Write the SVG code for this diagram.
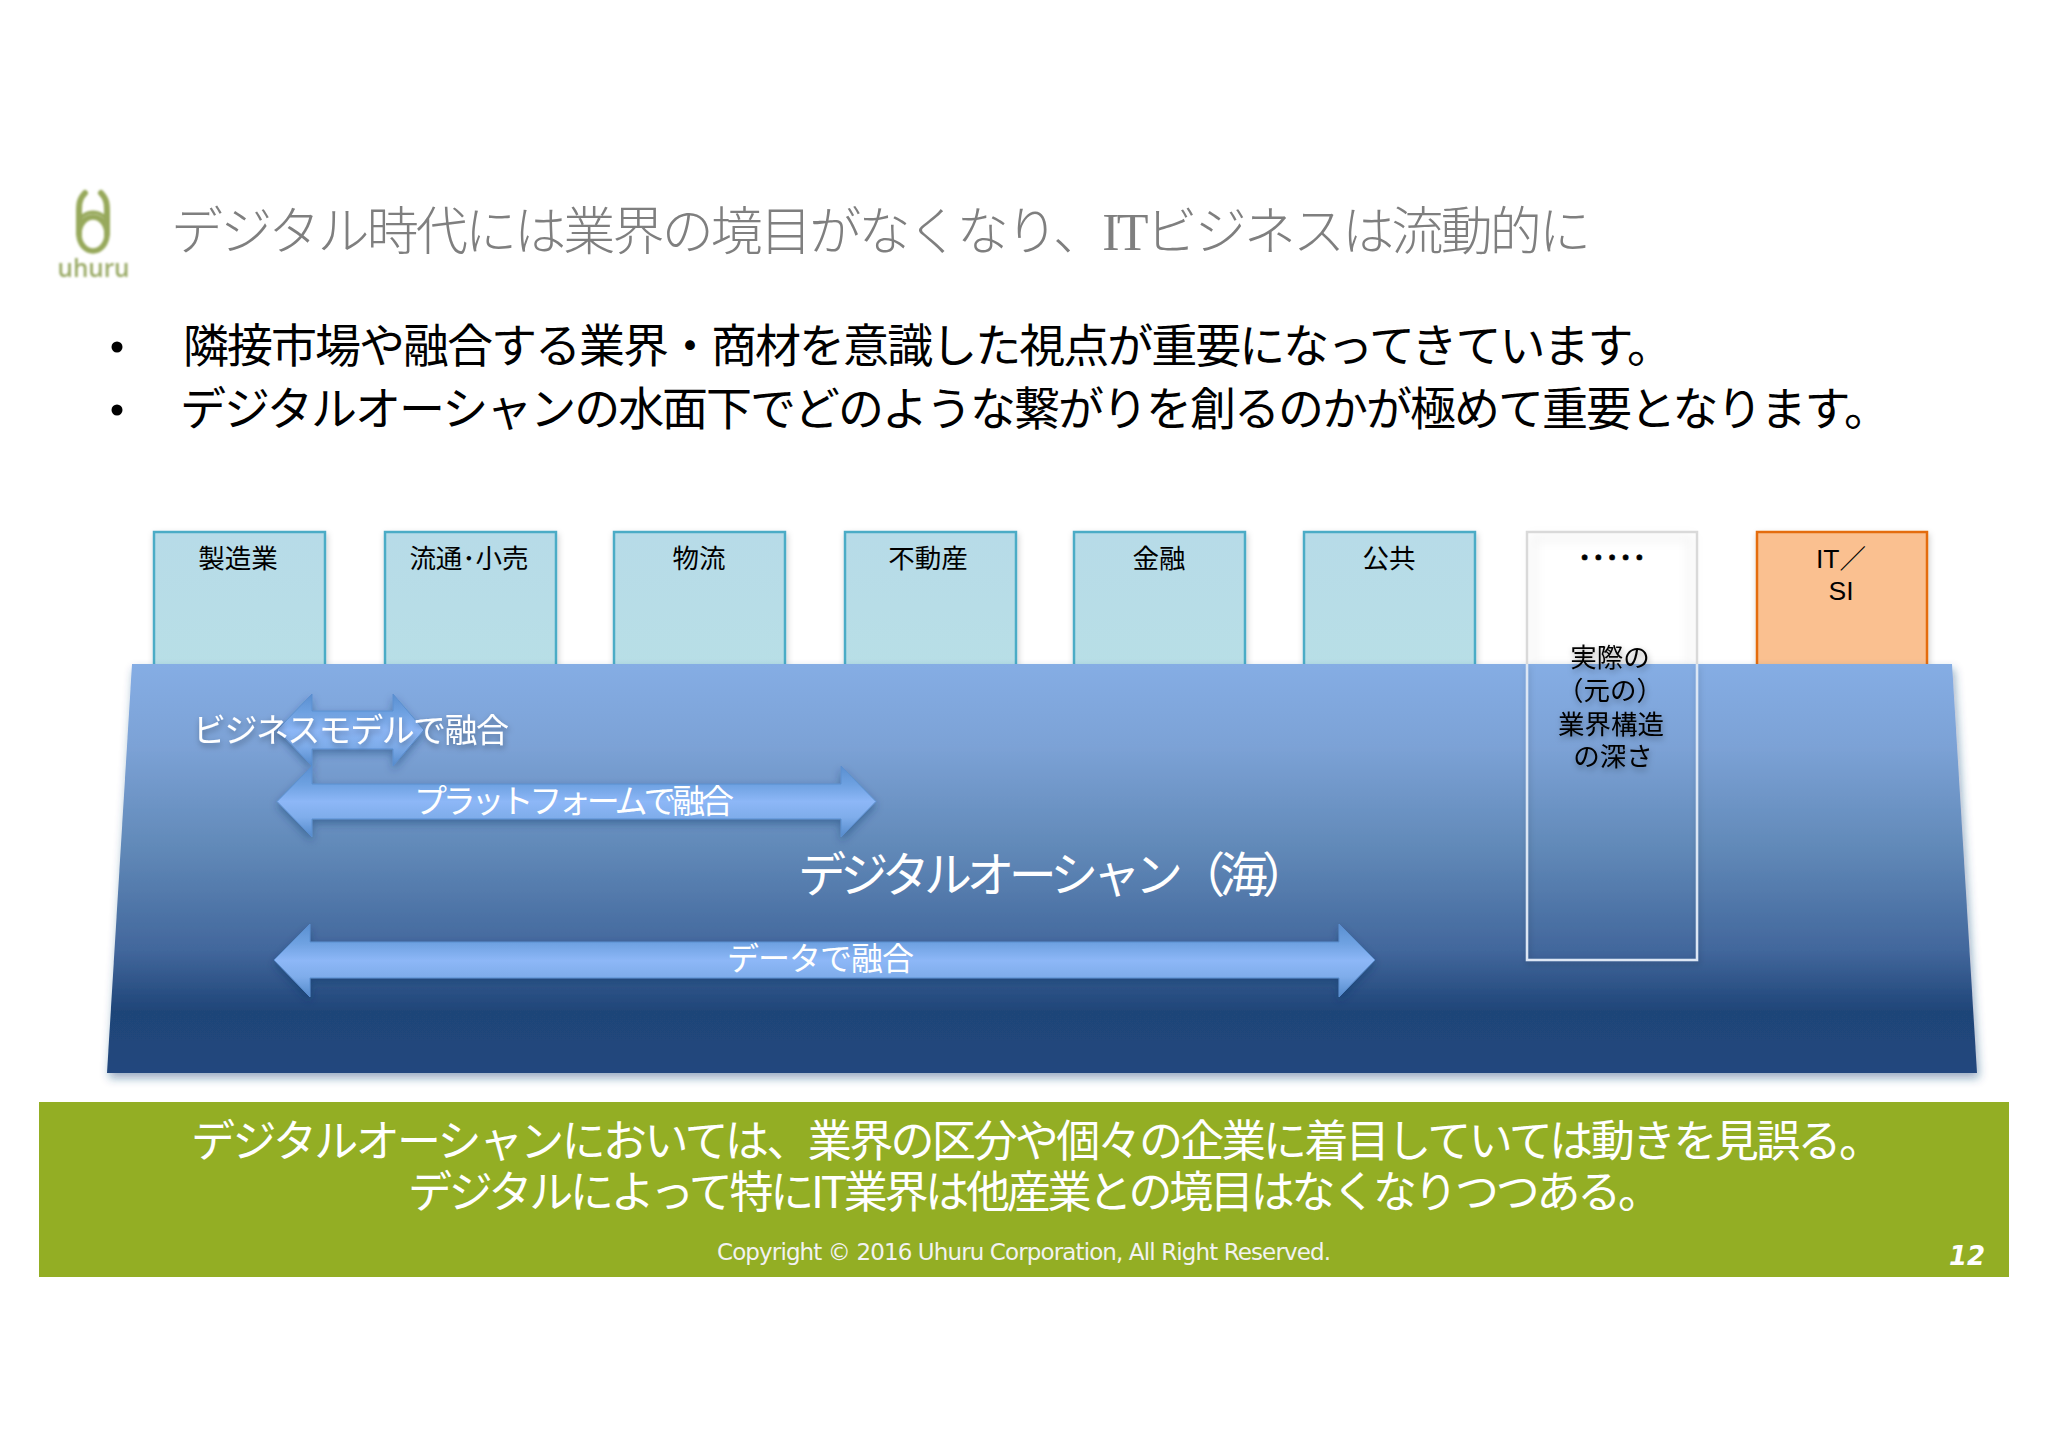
<svg xmlns="http://www.w3.org/2000/svg" width="2048" height="1447" viewBox="0 0 2048 1447">
<style>
.jp{font-family:"Noto Sans CJK JP","Liberation Sans",sans-serif}
.box{stroke-width:2.500;filter:url(#sh)}
.blue{fill:url(#boxg);stroke:#4BACC6}
.lab{font-size:26.500px;fill:#000;text-anchor:middle;font-family:"Liberation Sans","Noto Sans CJK JP",sans-serif}
.wh{fill:#fff}
.arr{fill:url(#arrg);stroke:#5b8fd0;stroke-width:1;filter:url(#sh2)}
.ts{filter:url(#ts)}
.logo{fill:none;stroke:#97a95c;stroke-linecap:round}
</style>
<defs>
<linearGradient id="boxg" x1="0" y1="0" x2="0" y2="1"><stop offset="0" stop-color="#B7DBE8"/><stop offset="1" stop-color="#B8DFE6"/></linearGradient>
<linearGradient id="sea" x1="0" y1="0" x2="0" y2="1"><stop offset="0" stop-color="#85ADE4"/><stop offset=".2" stop-color="#7CA2D6"/><stop offset=".45" stop-color="#6189B8"/><stop offset=".7" stop-color="#42679C"/><stop offset=".85" stop-color="#1F4578"/><stop offset="1" stop-color="#21477E"/></linearGradient>
<linearGradient id="arrg" x1="0" y1="0" x2="0" y2="1"><stop offset="0" stop-color="#5A8FD0"/><stop offset=".27" stop-color="#6FA2E2"/><stop offset=".5" stop-color="#8DB7F7"/><stop offset=".72" stop-color="#7FADEB"/><stop offset="1" stop-color="#548ACB"/></linearGradient>
<filter id="sh" x="-10%" y="-10%" width="120%" height="120%"><feDropShadow dx="1" dy="3" stdDeviation="3" flood-color="#000" flood-opacity=".2"/></filter>
<filter id="sh2" x="-10%" y="-20%" width="120%" height="150%"><feDropShadow dx="0" dy="4" stdDeviation="4" flood-color="#10305f" flood-opacity=".4"/></filter>
<filter id="sh3" x="-5%" y="-5%" width="110%" height="115%"><feDropShadow dx="2" dy="5" stdDeviation="5" flood-color="#1F4578" flood-opacity=".45"/></filter>
<filter id="ts" x="-10%" y="-20%" width="120%" height="150%"><feDropShadow dx="1" dy="3" stdDeviation="3" flood-color="#000" flood-opacity=".35"/></filter>
<filter id="bl" x="-20%" y="-20%" width="140%" height="140%"><feGaussianBlur stdDeviation=".8"/></filter>
<filter id="in" x="-20%" y="-20%" width="140%" height="140%"><feGaussianBlur stdDeviation="6"/></filter>
</defs>
<rect width="2048" height="1447" fill="#fff"/>

<g id="logo" filter="url(#bl)">
<path class="logo" stroke-width="6" d="M85 193C79 199 79 205 79 212V234M101 193C107 199 107 205 107 212V234"/>
<ellipse class="logo" stroke-width="5.500" cx="93" cy="234" rx="14" ry="17"/>
<path class="logo" stroke-width="3.500" d="M80 219C86 210 100 210 106 219"/>
<text x="93.500" y="277" font-size="26" font-weight="600" text-anchor="middle" fill="#9aaa66" textLength="72" lengthAdjust="spacingAndGlyphs" style="font-family:'Open Sans',sans-serif">uhuru</text>
</g>

<g id="title"><text class="jp" x="171" y="250" font-size="52" font-weight="300" fill="#7f7f7f" textLength="1420">デジタル時代には業界の境目がなくなり、<tspan font-family="'Liberation Serif',serif">IT</tspan>ビジネスは流動的に</text></g>

<g id="bullets" class="jp" font-size="46" fill="#000">
<circle cx="117" cy="347" r="5.500"/><circle cx="117" cy="410" r="5.500"/>
<text x="183" y="362" textLength="1490">隣接市場や融合する業界・商材を意識した視点が重要になってきています。</text>
<text x="180" y="425" textLength="1710">デジタルオーシャンの水面下でどのような繋がりを創るのかが極めて重要となります。</text>
</g>

<g id="n-seizo"><rect class="box blue" x="154" y="532" width="171" height="150"/><text class="lab" x="238" y="568">製造業</text></g>
<g id="n-ryutsu"><rect class="box blue" x="385" y="532" width="171" height="150"/><text class="lab" x="469" y="568">流通･小売</text></g>
<g id="n-butsuryu"><rect class="box blue" x="614" y="532" width="171" height="150"/><text class="lab" x="699" y="568">物流</text></g>
<g id="n-fudosan"><rect class="box blue" x="845" y="532" width="171" height="150"/><text class="lab" x="928" y="568">不動産</text></g>
<g id="n-kinyu"><rect class="box blue" x="1074" y="532" width="171" height="150"/><text class="lab" x="1159" y="568">金融</text></g>
<g id="n-kokyo"><rect class="box blue" x="1304" y="532" width="171" height="150"/><text class="lab" x="1389" y="568">公共</text></g>
<g id="n-it"><rect class="box" fill="#FAC090" stroke="#E46C0A" x="1757" y="532" width="170" height="150"/>
<text class="lab" x="1841" y="568">IT／</text><text class="lab" x="1841" y="600">SI</text></g>
<g id="n-other-top"><rect fill="#fff" x="1527" y="532" width="170" height="150"/>
<rect x="1533" y="538" width="158" height="130" fill="none" stroke="#000" stroke-opacity=".1" stroke-width="3" filter="url(#in)"/>
</g>

<g id="ocean"><path d="M132 664H1952L1977 1073H107Z" fill="url(#sea)" filter="url(#sh3)"/></g>

<g id="n-other"><path d="M1527 664V532H1697V664" fill="none" stroke="#D9D9D9" stroke-width="2.500"/>
<path d="M1527 664V960H1697V664" fill="none" stroke="#DCE6F4" stroke-width="2.500" filter="url(#sh)"/>
<text class="lab" x="1578" y="567" font-weight="700" text-anchor="start" textLength="68" stroke="#000" stroke-width=".6" style="text-anchor:start">･････</text>
<g class="ts"><text class="lab" x="1610" y="667">実際の</text><text class="lab" x="1610" y="700">（元の）</text><text class="lab" x="1611" y="734">業界構造</text><text class="lab" x="1613" y="766">の深さ</text></g></g>

<g id="connectors">
<path class="arr" d="M277 730L312 694V711H393V694L424 730L393 766V749H312V766Z"/>
<path class="arr" d="M277 801.500L312 766V784H841V766L876 801.500L841 837V819H312V837Z"/>
<path class="arr" d="M274 960L310 924V942H1339V924L1375 960L1339 997V978H310V997Z"/>
</g>

<g id="ocean-labels" class="jp wh">
<g class="ts"><text x="193" y="742" font-size="33" fill="#fff" textLength="316">ビジネスモデルで融合</text></g>
<text x="414" y="813" font-size="33" fill="#fff" textLength="320">プラットフォームで融合</text>
<text x="798" y="892" font-size="48" fill="#fff" textLength="512">デジタルオーシャン（海）</text>
<text x="727" y="970" font-size="32" fill="#fff" textLength="187">データで融合</text>
</g>

<g id="band"><rect x="39" y="1102" width="1970" height="175" fill="#93AE24"/>
<g class="jp" fill="#fff">
<text x="191" y="1157" font-size="44" textLength="1692">デジタルオーシャンにおいては、業界の区分や個々の企業に着目していては動きを見誤る。</text>
<text x="408" y="1208" font-size="44" textLength="1254">デジタルによって特にIT業界は他産業との境目はなくなりつつある。</text>
</g>
<text x="717" y="1260" font-size="23" fill="#f2f2f2" font-family="'DejaVu Sans',sans-serif" textLength="614">Copyright © 2016 Uhuru Corporation, All Right Reserved.</text>
<text x="1967" y="1265" font-size="26" fill="#fff" font-weight="700" font-style="italic" text-anchor="middle" font-family="'DejaVu Sans',sans-serif">12</text>
</g>
</svg>
